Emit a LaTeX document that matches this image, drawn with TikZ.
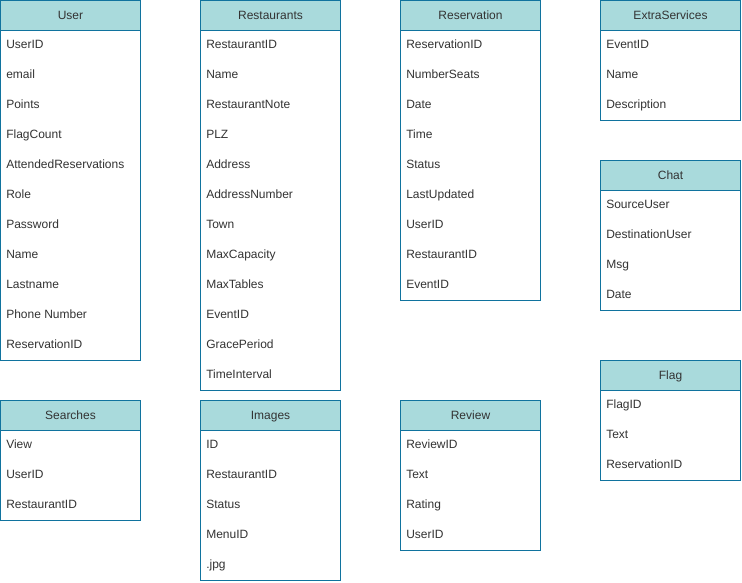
\documentclass[tikz,border=0pt]{standalone}
\usepackage{fontspec}
\setmainfont{Liberation Sans}
\usetikzlibrary{positioning}
\definecolor{erhead}{HTML}{A9DADC}
\definecolor{erline}{HTML}{10739E}
\definecolor{ertext}{HTML}{333333}
\tikzset{
  tblhead/.style = {draw=erline, line width=0.75pt, fill=erhead, anchor=north west,
                    minimum width=105pt, minimum height=22.5pt, inner sep=0pt,
                    text height=7.5pt, text depth=2pt,
                    font=\fontsize{9}{11}\selectfont, text=ertext},
  tblrow/.style  = {anchor=west, inner sep=0pt, text height=7.5pt, text depth=2pt,
                    font=\fontsize{9}{11}\selectfont, text=ertext},
  tblbody/.style = {draw=erline, line width=0.75pt, fill=white},
}
% #1 name, #2 x, #3 y, #4 number of rows, #5 title, #6 fields
\newcommand{\ertable}[6]{%
  \draw[tblbody] (#2,#3) rectangle ++(140,{30+30*#4});
  \node[tblhead] (#1) at (#2,#3) {#5};
  \foreach \f [count=\i] in {#6}
    \node[tblrow] (#1-\i) at ({#2+6},{#3+15+30*\i}) {\f};
}

\begin{document}
\begin{tikzpicture}[x=0.75pt,y=-0.75pt]
  \useasboundingbox (0,0) rectangle (742,582);
  % top row
  \ertable{user}{0}{0}{11}{User}{UserID,email,Points,FlagCount,AttendedReservations,Role,Password,Name,Lastname,Phone Number,ReservationID}
  \ertable{rest}{200}{0}{12}{Restaurants}{RestaurantID,Name,RestaurantNote,PLZ,Address,AddressNumber,Town,MaxCapacity,MaxTables,EventID,GracePeriod,TimeInterval}
  \ertable{resv}{400}{0}{9}{Reservation}{ReservationID,NumberSeats,Date,Time,Status,LastUpdated,UserID,RestaurantID,EventID}
  \ertable{extra}{600}{0}{3}{ExtraServices}{EventID,Name,Description}
  \ertable{chat}{600}{160}{4}{Chat}{SourceUser,DestinationUser,Msg,Date}
  \ertable{flag}{600}{360}{3}{Flag}{FlagID,Text,ReservationID}
  % bottom row
  \ertable{search}{0}{400}{3}{Searches}{View,UserID,RestaurantID}
  \ertable{img}{200}{400}{5}{Images}{ID,RestaurantID,Status,MenuID,.jpg}
  \ertable{review}{400}{400}{4}{Review}{ReviewID,Text,Rating,UserID}
\end{tikzpicture}
\end{document}
